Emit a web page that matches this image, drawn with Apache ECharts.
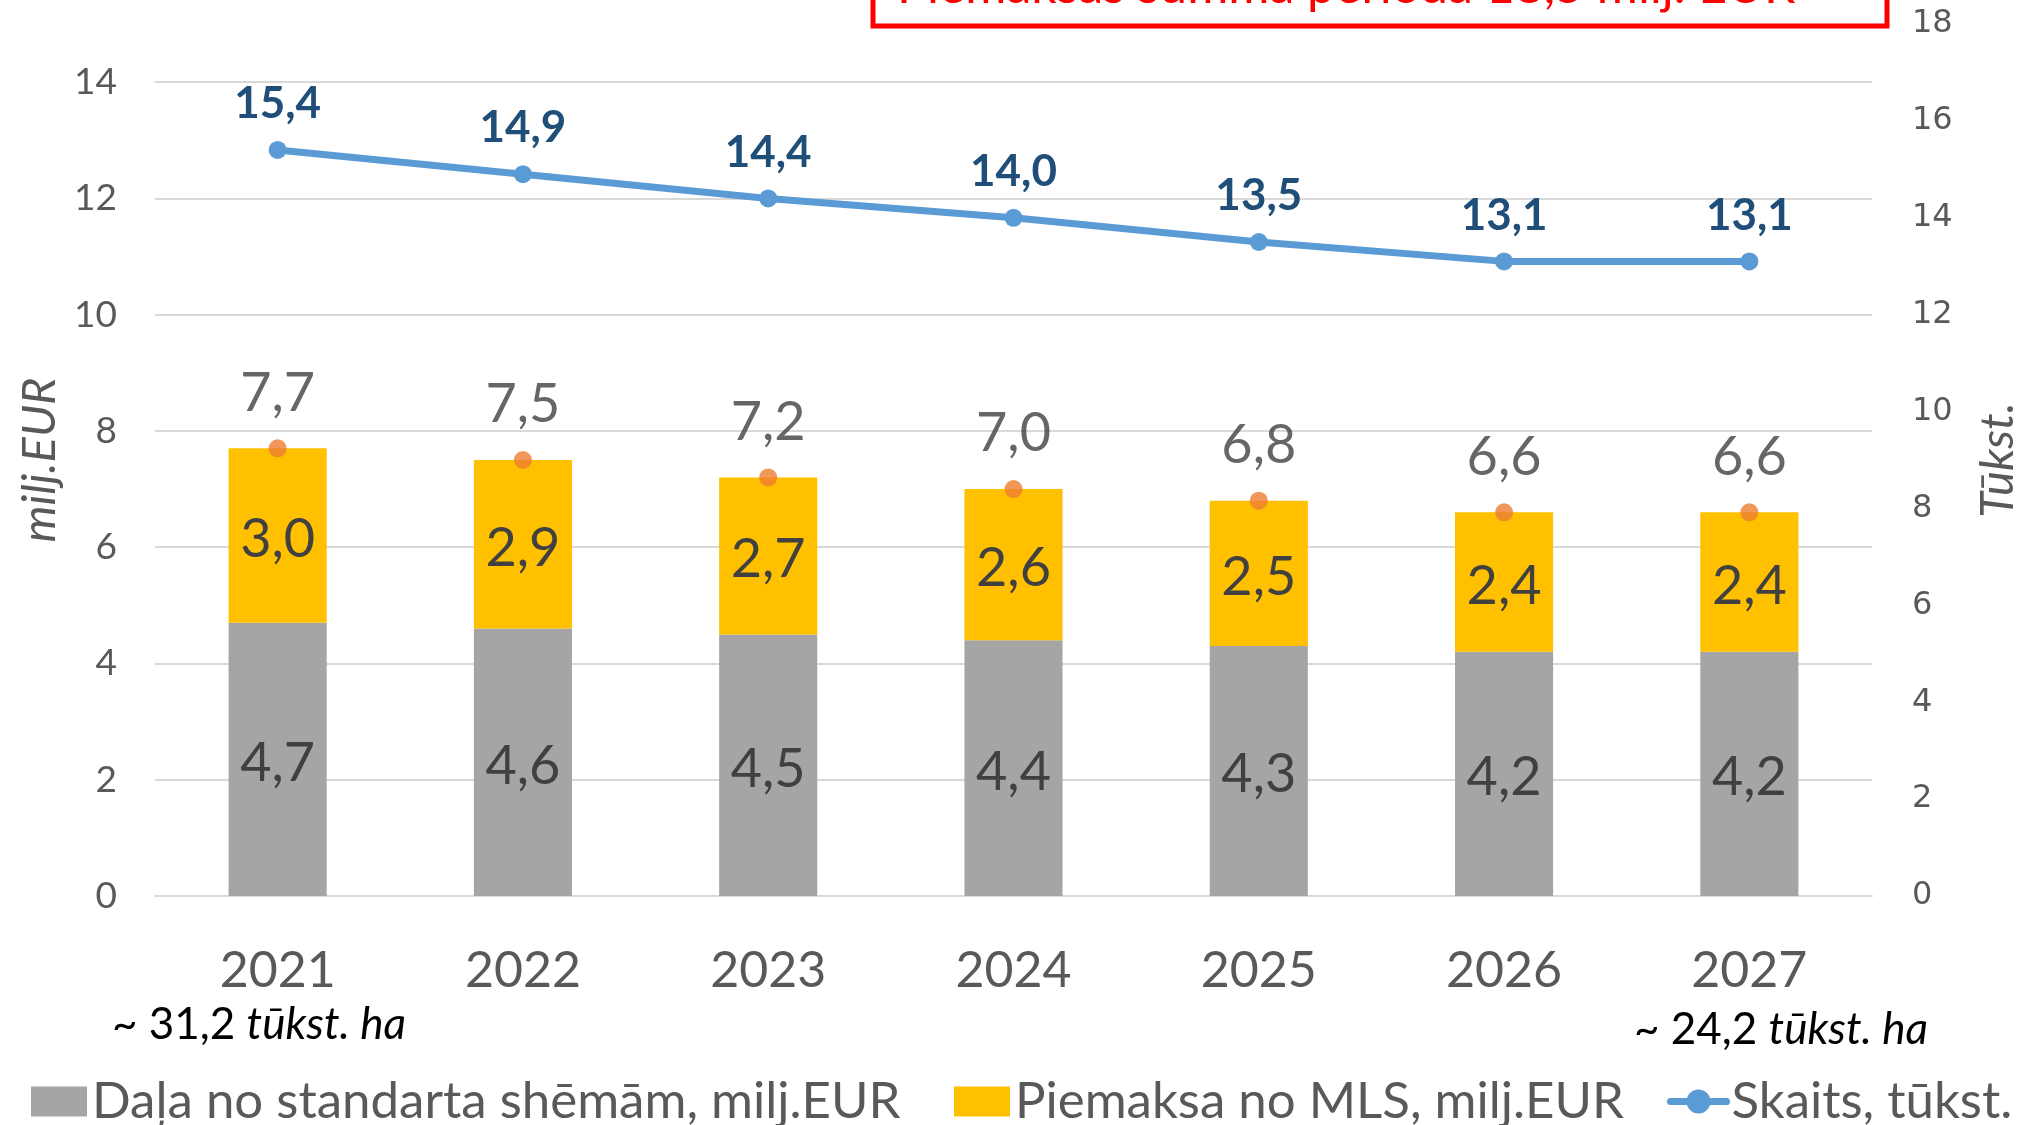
<!DOCTYPE html>
<html>
<head>
<meta charset="utf-8">
<script src="https://cdn.jsdelivr.net/npm/echarts@6/dist/echarts.min.js"></script>
<style>
    html, body { margin: 0; padding: 0; background: #fff; }
    #main { width: 2031px; height: 1125px; }
</style>
</head>
<body>
<div id="main"></div>
<script>
var years = ['2021', '2022', '2023', '2024', '2025', '2026', '2027']
var standarta = [4.7, 4.6, 4.5, 4.4, 4.3, 4.2, 4.2]
var piemaksa = [3.0, 2.9, 2.7, 2.6, 2.5, 2.4, 2.4]
var kopa = [7.7, 7.5, 7.2, 7.0, 6.8, 6.6, 6.6]
var skaits = [15.4, 14.9, 14.4, 14.0, 13.5, 13.1, 13.1]

var names = ['Daļa no standarta shēmām, milj.EUR', 'Piemaksa no MLS, milj.EUR', 'Skaits, tūkst.']
var boxText = 'Piemaksas summa periodā 18,5 milj. EUR'
var noteLeft = ['~ 31,2 ', 'tūkst. ha']
var noteRight = ['~ 24,2 ', 'tūkst. ha']

var font = 'Lato'
var grey = '#595959'

function fmt(p) {
    return p.value.toFixed(1).replace('.', ',')
}

function legendAt(left, name, icon) {
    return {
        data: [{ name: name, icon: icon }],
        left: left,
        top: 1071,
        itemWidth: 56,
        itemHeight: 30,
        lineStyle: { width: 7, cap: 'round' },
        textStyle: { fontFamily: font, fontSize: 51, color: grey }
    }
}

function note(parts) {
    return {
        text: '{n|' + parts[0] + '}{i|' + parts[1] + '}',
        verticalAlign: 'middle',
        rich: {
            n: { fontFamily: font, fontSize: 44, color: '#000' },
            i: { fontFamily: font, fontSize: 44, fontStyle: 'italic', color: '#000' }
        }
    }
}

var myChart = echarts.init(document.getElementById('main'))

var option = {
    backgroundColor: '#fff',
    animation: false,
    grid: { left: 155, right: 159, top: 24, bottom: 229 },
    legend: [
        legendAt(26, names[0], 'rect'),
        legendAt(949, names[1], 'rect'),
        legendAt(1662, names[2])
    ],
    xAxis: {
        type: 'category',
        data: years,
        axisTick: { show: false },
        axisLine: { lineStyle: { color: '#D9D9D9', width: 2 } },
        axisLabel: { fontFamily: font, fontSize: 50, color: grey, margin: 50 }
    },
    yAxis: [
        {
            type: 'value',
            min: 0,
            max: 15,
            interval: 2,
            name: 'milj.EUR',
            nameLocation: 'middle',
            nameRotate: 90,
            nameGap: 92,
            nameTextStyle: { fontFamily: font, fontSize: 47, fontStyle: 'italic', color: grey },
            axisLine: { show: false },
            axisTick: { show: false },
            splitLine: { showMaxLine: false, lineStyle: { color: '#D9D9D9', width: 2 } },
            axisLabel: { showMaxLabel: false, fontFamily: font, fontSize: 37, color: grey, margin: 38 }
        },
        {
            type: 'value',
            min: 0,
            max: 18,
            interval: 2,
            position: 'right',
            name: 'Tūkst.',
            nameLocation: 'middle',
            nameRotate: 90,
            nameGap: 102,
            nameTextStyle: { fontFamily: font, fontSize: 47, fontStyle: 'italic', color: grey },
            axisLine: { show: false },
            axisTick: { show: false },
            splitLine: { show: false },
            axisLabel: { fontFamily: 'DejaVu Sans', fontSize: 32, color: grey, margin: 40 }
        }
    ],
    series: [
        {
            name: names[0],
            type: 'bar',
            stack: 'eur',
            barWidth: '40%',
            data: standarta,
            itemStyle: { color: '#A5A5A5' },
            label: { show: true, position: 'inside', offset: [0, 4], formatter: fmt, fontFamily: font, fontSize: 54, color: '#404040' }
        },
        {
            name: names[1],
            type: 'bar',
            stack: 'eur',
            data: piemaksa,
            itemStyle: { color: '#FFC000' },
            label: { show: true, position: 'inside', offset: [0, 4], formatter: fmt, fontFamily: font, fontSize: 54, color: '#404040' }
        },
        {
            name: 'Kopā',
            type: 'scatter',
            data: kopa,
            symbolSize: 18,
            z: 5,
            itemStyle: { color: '#ED7D31' },
            label: { show: true, position: 'top', distance: 19, formatter: fmt, fontFamily: font, fontSize: 54, color: '#404040' }
        },
        {
            name: names[2],
            type: 'line',
            yAxisIndex: 1,
            data: skaits,
            symbol: 'circle',
            symbolSize: 18,
            z: 6,
            itemStyle: { color: '#5B9BD5' },
            lineStyle: { color: '#5B9BD5', width: 7 },
            label: { show: true, position: 'top', distance: 15, formatter: fmt, fontFamily: font, fontSize: 44, fontWeight: 'bold', color: '#1F4E79' }
        }
    ],
    graphic: [
        {
            type: 'rect',
            shape: { x: 873, y: -100, width: 1014, height: 126 },
            style: { fill: 'none', stroke: '#FF0000', lineWidth: 5 }
        },
        {
            type: 'text',
            x: 897,
            y: -13,
            style: { text: boxText, fontFamily: font, fontSize: 50, fill: '#FF0000', verticalAlign: 'middle' }
        },
        { type: 'text', x: 112, y: 1025, style: note(noteLeft) },
        { type: 'text', x: 1634, y: 1030, style: note(noteRight) }
    ]
}

option && myChart.setOption(option, true)
</script>
</body>
</html>
